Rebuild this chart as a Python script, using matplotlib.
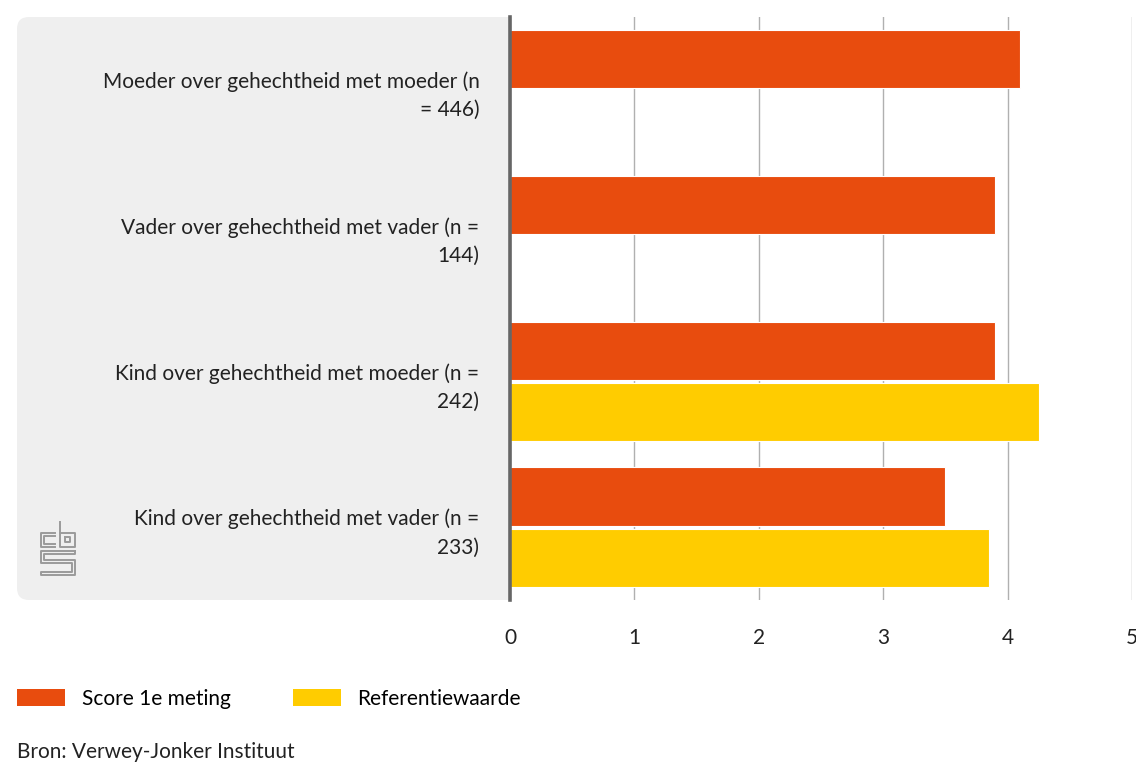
import matplotlib
matplotlib.use("Agg")
import matplotlib.pyplot as plt
from matplotlib.patches import FancyBboxPatch, Patch
from matplotlib.lines import Line2D
from matplotlib.transforms import IdentityTransform
import numpy as np

plt.rcParams['font.family'] = ['Lato', 'DejaVu Sans']

categories = [
    'Moeder over gehechtheid met moeder (n\n= 446)',
    'Vader over gehechtheid met vader (n =\n144)',
    'Kind over gehechtheid met moeder (n =\n242)',
    'Kind over gehechtheid met vader (n =\n233)',
]
score_1e = [4.1, 3.9, 3.9, 3.5]
referentie = [np.nan, np.nan, 4.25, 3.85]
series_names = ['Score 1e meting', 'Referentiewaarde']
xticks = [0, 1, 2, 3, 4, 5]

ORANGE = '#e84c0e'
YELLOW = '#ffcc00'
W, H = 1136, 764
FS = 15

fig = plt.figure(figsize=(W / 100, H / 100), dpi=100)

# grey label panel with rounded corners (pixel coords)
panel = FancyBboxPatch((17, H - 600), 540, 583, boxstyle='round,pad=0,rounding_size=12',
                       transform=IdentityTransform(), facecolor='#efefef', edgecolor='none', zorder=-5)
fig.add_artist(panel)

ax = fig.add_axes([510 / W, 1 - 600 / H, (1132 - 510) / W, 583 / H])
ax.set_zorder(1)
ax.set_facecolor('white')

y = np.arange(len(categories))
h = 0.40
ax.barh(y - 0.21, score_1e, height=h, color=ORANGE, edgecolor='white', linewidth=0.8, zorder=3)
ax.barh(y + 0.21, referentie, height=h, color=YELLOW, edgecolor='white', linewidth=0.8, zorder=3)

ax.set_xlim(0, 5)
ax.set_ylim(3.5, -0.5)
ax.set_xticks(xticks)
ax.set_xticklabels([str(t) for t in xticks], fontsize=FS, color='#222222')
ax.set_yticks(y)
ax.set_yticklabels(categories, fontsize=FS, color='#222222', linespacing=1.5,
                   multialignment='right')
ax.tick_params(axis='y', length=0, pad=22)
ax.tick_params(axis='x', length=0, pad=20)
ax.grid(axis='x', color='#b0b0b0', linewidth=1.0, zorder=0)
ax.set_axisbelow(True)
for s in ['top', 'right', 'bottom']:
    ax.spines[s].set_visible(False)
ax.spines['left'].set_color('#666666')
ax.spines['left'].set_linewidth(2.6)
ax.spines['left'].set_zorder(5)

# cbs logo (simplified), pixel coords
lc = '#9a9a9a'
lw = 1.4
def seg(xs, ys):
    fig.add_artist(Line2D(xs, [H - v for v in ys], transform=IdentityTransform(),
                          color=lc, linewidth=lw, zorder=10))
# c
seg([55, 41, 41, 55], [533, 533, 547, 547])
seg([55, 44, 44, 55], [536, 536, 544, 544])
# b
seg([60, 60, 75, 75, 60], [522, 547, 547, 533, 533])
seg([65, 70, 70, 65, 65], [537, 537, 542, 542, 537])
# s
seg([75, 41, 41, 72, 72, 41, 41, 75, 75, 44, 44, 75, 75],
    [551, 551, 563, 563, 572, 572, 575, 575, 560, 560, 554, 554, 551])

# legend
handles = [Patch(facecolor=ORANGE), Patch(facecolor=YELLOW)]
fig.legend(handles, series_names, loc='center left', bbox_to_anchor=(17 / W, 1 - 699 / H),
           ncol=2, frameon=False, fontsize=FS, handlelength=2.3, handleheight=0.85,
           handletextpad=0.8, columnspacing=3.0, borderaxespad=0, borderpad=0)

fig.text(17 / W, 1 - 752 / H, 'Bron: Verwey-Jonker Instituut', fontsize=FS,
         color='#222222', va='center', ha='left')

fig.savefig('out.png', dpi=100)
